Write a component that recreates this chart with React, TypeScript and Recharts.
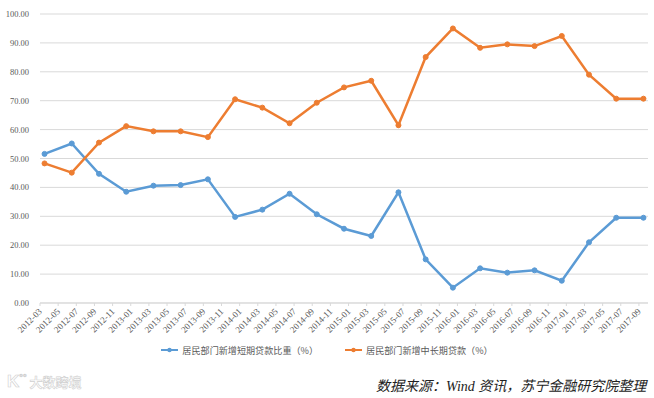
import React from "react";
import { CartesianGrid, Legend, Line, LineChart, XAxis, YAxis } from "recharts";

const W = 654;
const H = 398;

// quarterly observations
const periods = [
  "2012-03", "2012-06", "2012-09", "2012-12",
  "2013-03", "2013-06", "2013-09", "2013-12",
  "2014-03", "2014-06", "2014-09", "2014-12",
  "2015-03", "2015-06", "2015-09", "2015-12",
  "2016-03", "2016-06", "2016-09", "2016-12",
  "2017-03", "2017-06", "2017-09",
];
const shortTermShare = [
  51.6, 55.2, 44.7, 38.5, 40.6, 40.8, 42.8, 29.8,
  32.3, 37.8, 30.7, 25.7, 23.2, 38.3, 15.1, 5.3,
  12.0, 10.5, 11.3, 7.7, 21.0, 29.5, 29.5,
];
const longTermShare = [
  48.3, 45.1, 55.5, 61.2, 59.4, 59.4, 57.4, 70.5,
  67.6, 62.2, 69.3, 74.6, 76.9, 61.5, 85.1, 95.0,
  88.3, 89.5, 88.9, 92.4, 79.0, 70.7, 70.7,
];

const tickLabels = [
  "2012-03", "2012-05", "2012-07", "2012-09", "2012-11",
  "2013-01", "2013-03", "2013-05", "2013-07", "2013-09", "2013-11",
  "2014-01", "2014-03", "2014-05", "2014-07", "2014-09", "2014-11",
  "2015-01", "2015-03", "2015-05", "2015-07", "2015-09", "2015-11",
  "2016-01", "2016-03", "2016-05", "2016-07", "2016-09", "2016-11",
  "2017-01", "2017-03", "2017-05", "2017-07", "2017-09",
];
const yTicks = [0, 10, 20, 30, 40, 50, 60, 70, 80, 90, 100];

const SHORT_NAME = "居民部门新增短期贷款比重（%）";
const LONG_NAME = "居民部门新增中长期贷款（%）";
const BLUE = "#5B9BD5";
const ORANGE = "#ED7D31";

function monthIndex(p: string) {
  const [y, m] = p.split("-").map(Number);
  return (y - 2012) * 12 + (m - 3);
}

const data = periods.map((p, i) => ({
  m: monthIndex(p),
  short: shortTermShare[i],
  long: longTermShare[i],
}));
const tickMap = new Map(tickLabels.map((t) => [monthIndex(t), t]));
const xTicks = tickLabels.map(monthIndex);

const MARGIN = { top: 14, right: 6, left: 4, bottom: 55 };
const Y_WIDTH = 36;
const HALF_MONTH = (W - MARGIN.left - Y_WIDTH - MARGIN.right) / 67 / 2;

function MonthTick({ x, y, payload }: any) {
  const label = tickMap.get(payload.value) ?? "";
  return (
    <g>
      <line x1={x - HALF_MONTH} x2={x - HALF_MONTH} y1={y} y2={y + 3} stroke="#d9d9d9" />
      <text
        x={0}
        y={0}
        transform={`translate(${x - 2},${y + 9}) rotate(-45)`}
        textAnchor="end"
        fontSize={9}
        fontFamily="'Liberation Serif', serif"
        fill="#595959"
      >
        {label}
      </text>
    </g>
  );
}

function LegendItem({ color, name }: { color: string; name: string }) {
  return (
    <div style={{ display: "flex", alignItems: "center" }}>
      <svg width={17} height={8} style={{ marginRight: 4 }}>
        <line x1={0} x2={17} y1={4} y2={4} stroke={color} strokeWidth={2} />
        <circle cx={8.5} cy={4} r={2.2} fill={color} />
      </svg>
      <span>{name}</span>
    </div>
  );
}

function ChartLegend() {
  return (
    <div
      style={{
        display: "flex",
        justifyContent: "center",
        gap: 27,
        fontFamily: "'Noto Sans CJK SC', sans-serif",
        fontSize: 9.1,
        color: "#595959",
      }}
    >
      <LegendItem color={BLUE} name={SHORT_NAME} />
      <LegendItem color={ORANGE} name={LONG_NAME} />
    </div>
  );
}

export default function App() {
  return (
    <div
      style={{
        position: "absolute",
        left: 0,
        top: 0,
        width: W,
        height: H,
        background: "#fff",
      }}
    >
      <LineChart width={W} height={H} data={data} margin={MARGIN}>
        <CartesianGrid vertical={false} stroke="#d9d9d9" />
        <XAxis
          dataKey="m"
          type="number"
          domain={[-0.5, 66.5]}
          ticks={xTicks}
          interval={0}
          height={40}
          tick={<MonthTick />}
          tickLine={false}
          tickSize={0}
          tickMargin={0}
          axisLine={{ stroke: "#d9d9d9" }}
        />
        <YAxis
          type="number"
          domain={[0, 100]}
          ticks={yTicks}
          width={Y_WIDTH}
          interval={0}
          axisLine={false}
          tickLine={false}
          tickSize={0}
          tickMargin={11}
          tickFormatter={(v: number) => v.toFixed(2)}
          tick={{ fontSize: 8.5, fill: "#595959", fontFamily: "'Liberation Serif', serif" }}
        />
        <Legend
          verticalAlign="middle"
          align="center"
          layout="horizontal"
          wrapperStyle={{ top: 343, left: 0, width: W }}
          content={() => <ChartLegend />}
        />
        <Line
          dataKey="short"
          name={SHORT_NAME}
          stroke={BLUE}
          strokeWidth={2.5}
          dot={{ r: 2.5, fill: BLUE, stroke: BLUE, strokeWidth: 1 }}
          isAnimationActive={false}
        />
        <Line
          dataKey="long"
          name={LONG_NAME}
          stroke={ORANGE}
          strokeWidth={2.5}
          dot={{ r: 2.5, fill: ORANGE, stroke: ORANGE, strokeWidth: 1 }}
          isAnimationActive={false}
        />
      </LineChart>
      <div
        style={{
          position: "absolute",
          left: 7,
          top: 371,
          fontFamily: "'Noto Sans CJK SC', sans-serif",
          fontSize: 13,
          fontWeight: 700,
          color: "#fff",
          WebkitTextStroke: "0.6px #cfcfcf",
          whiteSpace: "nowrap",
        }}
      >
        <span style={{ fontSize: 17, fontFamily: "'Liberation Sans', sans-serif" }}>K</span>
        <span style={{ fontSize: 9, verticalAlign: 6 }}>°°</span>
        <span style={{ marginLeft: 3 }}>大数跨境</span>
      </div>
      <div
        style={{
          position: "absolute",
          left: 376,
          top: 375,
          fontFamily: "'Liberation Serif', 'Noto Sans CJK SC', serif",
          fontStyle: "italic",
          fontSize: 14,
          color: "#222",
          whiteSpace: "nowrap",
        }}
      >
        数据来源：Wind 资讯，苏宁金融研究院整理
      </div>
    </div>
  );
}
